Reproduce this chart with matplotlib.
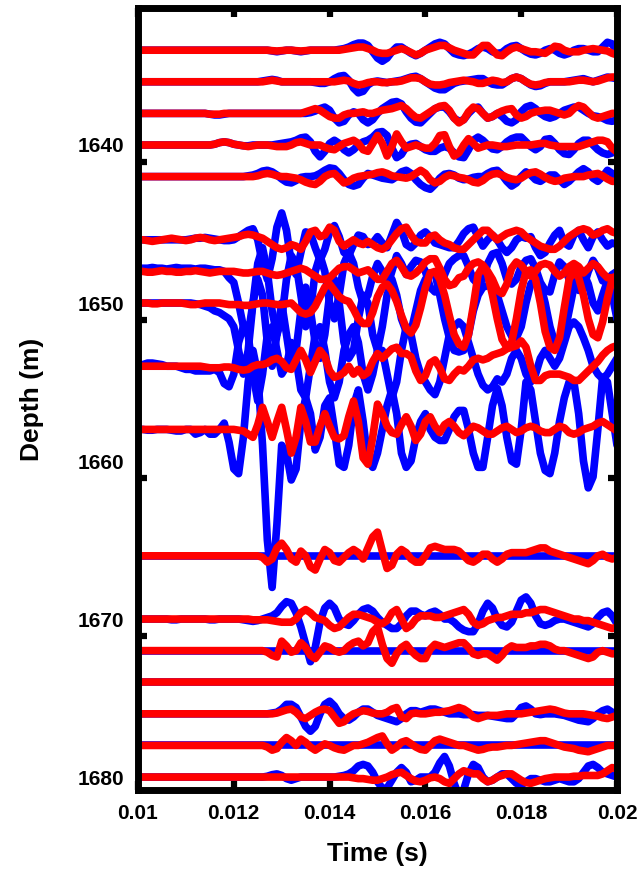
import numpy as np
import matplotlib
matplotlib.use("Agg")
import matplotlib.pyplot as plt

# ---------------- data ----------------
time = np.linspace(0.010, 0.020, 101)          # s, 0.1 ms sampling
depths = [1634, 1636, 1638, 1640, 1642, 1646, 1648, 1650, 1654, 1658,
          1666, 1670, 1672, 1674, 1676, 1678, 1680]
x_ticks = [0.01, 0.012, 0.014, 0.016, 0.018, 0.02]
x_tick_labels = ["0.01", "0.012", "0.014", "0.016", "0.018", "0.02"]
y_ticks = [1640, 1650, 1660, 1670, 1680]
y_tick_labels = ["1640", "1650", "1660", "1670", "1680"]
y_tick_marks = [1641.1, 1651.1, 1661.1, 1671.05]   # tick marks sit slightly below labels

# trace deflections in metres (positive = deeper), blue = measured, red = modelled
blue_1634 = [0, 0, 0, 0, 0, 0, 0, 0, 0, 0,
             0, 0, 0, 0, 0, 0, 0, 0, 0, 0,
             0, 0, 0, 0, 0, 0, 0, 0, 0.05, 0.1,
             0.05, 0, 0, 0.05, 0.1, 0.05, 0, 0, 0, 0,
             0, 0, -0.05, -0.1, -0.2, -0.35, -0.45, -0.45, -0.3, 0.1,
             0.5, 0.7, 0.5, 0.1, -0.2, -0.2, 0, 0.2, 0.35, 0.2,
             0, -0.2, -0.4, -0.5, -0.4, -0.1, 0.2, 0.3, 0.35, 0.25,
             0.1, -0.1, -0.2, -0.1, 0.1, 0.2, 0.15, -0.1, -0.25, -0.3,
             -0.1, 0.1, 0.25, 0.3, 0.2, 0, -0.1, 0, 0.2, 0.3,
             0.2, 0, -0.1, -0.1, 0, 0.1, 0.1, -0.2, -0.5, -0.4,
             0.1]
red_1634 = [0, 0, 0, 0, 0, 0, 0, 0, 0, 0,
            0, 0, 0, 0, 0, 0, 0, 0, 0, 0,
            0, 0, 0, 0, 0, 0, 0, 0, 0.03, 0.05,
            0.03, 0, 0, 0.03, 0.05, 0.03, 0, 0, 0, 0,
            0, 0, 0, -0.05, -0.1, -0.15, -0.2, -0.2, -0.1, 0,
            0.15, 0.2, 0.2, 0.1, 0, -0.1, 0, 0.15, 0.3, 0.2,
            0, -0.1, -0.2, -0.3, -0.3, -0.15, 0, 0.1, 0.2, 0.3,
            0.3, 0, -0.3, -0.3, 0, 0.3, 0.35, 0.1, -0.1, -0.2,
            -0.1, 0, 0.1, 0.1, 0.15, 0.2, 0, -0.25, -0.2, 0,
            0.1, 0.1, 0.1, 0, -0.05, -0.1, -0.05, 0, 0.05, 0.2,
            0.3]
blue_1636 = [0, 0, 0, 0, 0, 0, 0, 0, 0, 0,
             0, 0, 0, 0, 0, 0, 0, 0, 0, 0,
             0, 0, 0, 0, 0, 0, -0.05, -0.1, -0.15, -0.1,
             0, 0, 0, 0, 0, 0, 0, 0.05, 0.1, 0.1,
             0, -0.2, -0.35, -0.4, -0.1, 0.4, 0.7, 0.6, 0.2, 0,
             -0.05, 0, 0.05, 0, -0.05, -0.1, -0.2, -0.3, -0.35, -0.2,
             0, 0.2, 0.4, 0.5, 0.5, 0.3, 0.1, 0, -0.05, -0.1,
             -0.15, -0.2, -0.2, 0, 0.15, 0.2, 0.2, 0, -0.2, -0.3,
             -0.2, 0, 0.2, 0.3, 0.25, 0.1, 0, 0, 0, 0,
             -0.05, -0.1, -0.15, -0.2, -0.1, 0, -0.1, -0.2, -0.3, -0.25,
             -0.2]
red_1636 = [0, 0, 0, 0, 0, 0, 0, 0, 0, 0,
            0, 0, 0, 0, 0, 0, 0, 0, 0, 0,
            0, 0, 0, 0, 0, 0, 0, -0.05, -0.1, -0.05,
            0, 0, 0, 0, 0, 0, 0, 0, 0, 0,
            0, 0, -0.05, -0.1, -0.05, 0.1, 0.2, 0.15, 0.05, 0,
            0, 0.05, 0.05, 0, 0, -0.05, -0.15, -0.25, -0.25, -0.2,
            0, 0.15, 0.2, 0.2, 0.15, 0.05, 0, -0.05, -0.1, -0.05,
            0, 0.1, 0.1, 0, -0.1, -0.05, 0.05, 0, -0.2, -0.3,
            -0.2, 0, 0.15, 0.2, 0.15, 0.05, 0, 0, 0, 0,
            0, -0.05, -0.1, -0.1, -0.05, 0, -0.05, -0.15, -0.25, -0.3,
            -0.3]
blue_1638 = [0, 0, 0, 0, 0, 0, 0, 0, 0, 0,
             0, 0, 0, 0, 0, 0.05, 0.1, 0.1, 0.05, 0,
             0, 0, 0, 0, 0, 0, 0, 0, 0, 0,
             0, 0, 0, 0, 0, 0, -0.05, -0.15, -0.3, -0.4,
             -0.2, 0.3, 0.6, 0.5, 0.1, -0.1, 0, 0.4, 0.6, 0.4,
             0, -0.3, -0.5, -0.7, -0.75, -0.6, -0.1, 0.3, 0.55, 0.6,
             0.3, 0, -0.3, -0.4, -0.4, -0.1, 0.3, 0.5, 0.4, 0,
             -0.3, -0.4, 0, 0.3, 0.2, 0, 0.2, 0.5, 0.6, 0.4,
             -0.1, -0.4, -0.5, -0.3, 0, 0.2, 0.3, 0.2, 0, -0.2,
             -0.3, -0.4, -0.4, -0.2, 0, 0.15, 0.2, 0.3, 0.45, 0.5,
             0.4]
red_1638 = [0, 0, 0, 0, 0, 0, 0, 0, 0, 0,
            0, 0, 0, 0, 0, 0.05, 0.05, 0.05, 0, 0,
            0, 0, 0, 0, 0, 0, 0, 0, 0, 0,
            0, 0, 0, 0, 0, -0.1, -0.2, -0.3, -0.2, 0,
            0.2, 0.3, 0.3, 0.1, 0, 0, -0.05, -0.1, 0, 0,
            -0.1, -0.2, -0.25, -0.3, -0.4, -0.5, -0.3, 0, 0.25, 0.3,
            0.1, -0.1, -0.3, -0.45, -0.5, -0.2, 0.3, 0.6, 0.4, -0.1,
            -0.4, -0.3, 0, 0.3, 0.2, 0, -0.15, -0.25, -0.3, 0.1,
            0.3, 0.2, 0, -0.1, -0.15, -0.2, -0.2, -0.1, 0, 0.1,
            0, -0.3, -0.5, -0.4, -0.1, 0.2, 0.3, 0.2, 0.1, 0,
            0]
blue_1640 = [0, 0, 0, 0, 0, 0, 0, 0, 0, 0,
             0, 0, 0, 0, 0, 0, -0.05, -0.15, -0.2, -0.15,
             -0.05, 0, 0.05, 0.05, 0, 0, 0, 0, 0, -0.05,
             -0.1, -0.15, -0.2, -0.3, -0.45, -0.5, -0.2, 0.4, 0.75, 0.4,
             -0.1, -0.3, -0.1, 0.3, 0.5, 0.3, 0, -0.2, -0.3, -0.5,
             -0.8, -0.85, -0.6, 0.2, 0.8, 0.6, 0.1, -0.05, -0.1, 0.1,
             0.3, 0.4, 0.4, 0.2, 0.1, 0.2, 0.5, 0.75, 0.8, 0.3,
             -0.3, -0.5, -0.3, 0, 0.25, 0.3, 0.1, -0.2, -0.4, -0.5,
             -0.5, -0.2, 0.1, 0.3, 0.1, -0.35, -0.4, -0.1, 0.3, 0.55,
             0.6, 0.3, -0.1, -0.3, -0.3, 0, 0.3, 0.5, 0.6, 0.5,
             0.3]
red_1640 = [0, 0, 0, 0, 0, 0, 0, 0, 0, 0,
            0, 0, 0, 0, 0, 0, -0.05, -0.15, -0.2, -0.15,
            -0.05, 0, 0.05, 0.1, 0.05, 0, 0, 0, 0.05, 0.1,
            0.1, 0.1, 0, -0.15, -0.2, -0.1, 0, 0, 0, 0.15,
            0.25, 0.3, 0.1, -0.1, -0.2, -0.3, -0.1, 0.3, 0.4, -0.1,
            -0.6, -0.1, 0.7, 0.1, -0.7, -0.2, 0.2, 0.1, 0, 0.1,
            0.2, 0.2, -0.1, -0.6, -0.65, 0.1, 0.7, 0.5, 0, -0.4,
            -0.1, 0.2, 0.1, 0, 0, 0.05, 0.1, 0.1, 0.05, 0,
            0, 0, 0, -0.05, -0.1, -0.1, 0, 0.05, 0.1, 0.1,
            0.1, 0.1, 0.1, 0, -0.1, -0.2, -0.3, -0.3, -0.2, 0.2,
            0.45]
blue_1642 = [0, 0, 0, 0, 0, 0, 0, 0, 0, 0,
             0, 0, 0, 0, 0, 0, 0, 0, 0, 0,
             0, 0, 0, -0.05, -0.1, -0.2, -0.35, -0.4, -0.3, -0.1,
             0.15, 0.35, 0.4, 0.25, 0.05, 0, 0, -0.05, -0.2, -0.4,
             -0.55, -0.5, -0.2, 0.2, 0.5, 0.6, 0.5, 0.1, -0.2, -0.1,
             0, 0.1, 0.15, 0.2, 0, -0.3, -0.4, -0.2, 0.2, 0.5,
             0.7, 0.8, 0.5, 0.1, -0.15, -0.2, -0.1, 0.1, 0.2, 0.15,
             0.05, 0, 0, -0.2, -0.35, -0.4, -0.1, 0.3, 0.6, 0.4,
             0, -0.3, -0.1, 0.2, 0.3, 0.1, -0.1, -0.1, 0.2, 0.5,
             0.3, 0, -0.3, -0.5, -0.3, 0.1, 0.3, 0, -0.4, -0.2,
             0.2]
red_1642 = [0, 0, 0, 0, 0, 0, 0, 0, 0, 0,
            0, 0, 0, 0, 0, 0, 0, 0, 0, 0,
            0, 0, 0, 0, 0, -0.05, -0.15, -0.2, -0.15, -0.05,
            0, 0, 0.05, 0.1, 0.2, 0.35, 0.45, 0.5, 0.3, 0,
            -0.15, -0.2, 0.1, 0.4, 0.3, 0.1, 0, -0.05, -0.1, -0.15,
            -0.25, -0.3, -0.2, -0.05, 0, 0.05, 0.1, 0, -0.2, -0.4,
            -0.2, 0.2, 0.4, 0.3, 0.05, -0.1, -0.05, 0.05, 0.1, 0.2,
            0.35, 0.4, 0.25, 0, -0.15, -0.2, -0.1, 0.05, 0.15, 0.2,
            0.1, -0.1, -0.25, -0.3, -0.15, 0.05, 0.2, 0.3, 0.25, 0.1,
            0.05, 0, 0, 0, -0.1, -0.15, -0.2, -0.05, 0.15, 0.3,
            0.3]
blue_1646 = [0, 0, 0, 0, 0, 0, 0, 0, 0, 0,
             0, -0.05, -0.1, -0.1, -0.15, -0.1, -0.05, 0, 0.05, 0.05,
             0, -0.2, -0.4, -0.6, -0.7, 0, 1.5, 2.5, 1.2, -0.8,
             -1.7, -0.6, 1.5, 2.2, 0.8, -0.5, -0.4, 0.5, 1.3, 0.6,
             -0.5, -0.9, -0.2, 0.8, 1.0, 0.3, -0.3, -0.2, 0.3, 0.2,
             -0.2, 0.2, 0.5, -0.3, -1.1, -0.6, 0.3, 0.5, 0.2, -0.3,
             -0.5, -0.2, 0.2, 0.3, 0.4, 0.5, 0.5, 0.1, -0.4, -0.7,
             -0.8, -0.2, 0.4, 0, -0.3, 0, 0.5, 0.8, 0.5, 0,
             -0.2, -0.1, -0.2, 0.5, 1.0, 0.8, 0.2, -0.3, -0.6, 0.2,
             0.4, -0.3, -0.6, 0, 0.5, -0.2, -0.5, 0, 0.4, 0.2,
             0.3]
red_1646 = [0, 0, 0.05, 0.1, 0.05, 0, -0.05, -0.1, -0.05, 0,
            0.05, 0, -0.1, -0.15, -0.1, 0, 0.05, 0, -0.05, -0.1,
            -0.15, -0.2, -0.3, -0.35, -0.3, -0.2, -0.1, 0.1, 0.3, 0.5,
            0.6, 0.5, 0.3, 0.4, 0.6, 0.1, -0.5, -0.6, -0.2, -0.3,
            -0.8, -0.6, 0.1, 0.4, 0.2, 0, 0.2, 0.3, 0.1, 0.3,
            0.5, 0.6, 0.4, 0, -0.4, -0.7, -0.8, -0.3, 0.1, 0.2,
            0.2, -0.2, -0.3, 0, 0.2, 0.3, 0.5, 0.6, 0.6, 0.3,
            0, -0.3, -0.6, -0.6, -0.3, 0, -0.2, -0.4, -0.5, -0.6,
            -0.5, -0.2, 0, 0.2, 0.4, 0.5, 0.6, 0.6, 0.4, 0.1,
            -0.2, -0.4, -0.6, -0.7, -0.6, -0.3, -0.4, -0.6, -0.7, -0.5,
            -0.4]
blue_1648 = [-0.2, -0.2, -0.2, -0.25, -0.2, -0.2, -0.15, -0.2, -0.25, -0.2,
             -0.2, -0.2, -0.15, -0.2, -0.2, -0.15, -0.1, -0.1, 0, 0.4,
             0.7, 2.0, 3.5, 4.0, 2.0, -0.5, -1.5, 0, 2.5, 4.0,
             3.0, 0.5, -1.0, -0.5, 1.5, 3.5, 2.5, 0, -1.0, 0,
             2.0, 3.0, 1.5, -0.5, -1.2, -0.5, 1.0, 2.0, 1.5, 0.3,
             -0.5, 0, 1.0, 0, -1.0, -0.5, 0.2, -0.3, -0.7, -0.6,
             0, 1.0, 1.3, 1.0, 0.2, -0.5, -0.8, -1.0, -1.0, -0.3,
             0.5, 0.8, 0.5, -0.5, -1.1, -1.2, -0.5, 0.5, 0.8, 0.5,
             -0.3, -0.7, -0.8, -0.2, 0.7, 1.2, 1.3, 0.2, -0.6, -0.3,
             0.5, 1.0, 1.2, 1.0, 0, -0.7, -0.2, 0.6, 0.5, 0.2,
             0]
red_1648 = [0, 0, 0.05, 0.05, 0, -0.05, 0, 0, 0.05, 0.05,
            0, 0, -0.05, 0, 0.05, 0.1, 0.05, 0, 0, 0,
            0, 0.05, 0.1, 0.1, 0.05, 0, 0, 0.1, 0.2, 0.25,
            0.2, 0.1, 0, -0.1, -0.2, -0.1, 0.1, 0.3, 0.5, 0.5,
            0.4, 0.1, -0.2, -0.3, -0.3, -0.1, 0.1, 0, -0.1, 0.2,
            0.5, 0.5, 0, -0.5, -0.7, -0.3, 0.2, 0.3, 0.1, -0.2,
            -0.6, -0.8, -0.8, -0.2, 0.5, 0.9, 0.8, 0.4, 0.3, -0.2,
            -0.5, -0.6, -0.4, 0, 0.5, 1.2, 1.4, 0.8, -0.2, -0.6,
            -0.4, 0, 0.3, 0, -0.4, -0.5, -0.4, 0, 0.3, 0.1,
            -0.3, -0.5, -0.3, 0.1, -0.2, -0.5, -0.3, 0.1, 0.4, 0.4,
            0.3]
blue_1650 = [0, 0, 0, 0, 0, 0, 0, 0, 0, 0,
             0, 0, 0.05, 0.1, 0.2, 0.3, 0.5, 0.6, 0.8, 1.0,
             1.5, 3.0, 4.5, 3.0, 0, -1.5, -0.5, 2.5, 4.0, 2.0,
             0, 2.0, 4.0, 3.0, 0.5, -1.0, 0.5, 2.5, 3.5, 2.0,
             -0.5, -1.5, 0, 2.5, 3.5, 3.0, 1.0, -0.5, 0, 2.0,
             3.0, 1.5, -0.5, -1.5, -0.5, 1.0, 1.8, 1.8, 0.5, -0.8,
             -1.5, -1.9, -1.9, -0.5, 1.0, 2.2, 3.0, 3.1, 3.0, 2.0,
             0.5, -0.5, -1.0, -1.1, -1.1, -0.5, 0.5, 1.5, 2.1, 2.2,
             1.5, 0, -1.2, -1.6, -1.2, 0, 1.5, 2.5, 2.7, 2.0,
             0.5, -1.0, -1.8, -1.9, -1.2, 0, 0.5, -0.5, -1.4, -0.5,
             1.0]
red_1650 = [0, 0, 0, 0.05, 0.05, 0, 0, 0, 0, 0,
            0.05, 0.1, 0.1, 0.05, 0, 0, 0, 0, 0.05, 0.1,
            0.1, 0.1, 0.15, 0.15, 0.1, 0.05, 0, 0, 0.05, 0.1,
            0.1, 0.05, 0, 0.3, 0.6, 0.7, 0.6, 0.2, -0.4, -1.0,
            -1.2, -0.8, -0.4, -0.2, -0.1, 0.4, 1.0, 1.3, 1.3, 0.6,
            -0.4, -1.0, -1.2, -0.8, -0.1, 0.8, 1.6, 1.9, 1.4, 0.3,
            -1.0, -1.9, -2.0, -1.5, -0.5, 0.8, 2.0, 2.6, 2.8, 2.0,
            0.2, -1.8, -2.3, -1.8, -0.5, 1.0, 2.3, 2.8, 2.5, 1.0,
            -0.8, -2.0, -2.1, -1.5, 0, 1.8, 2.8, 3.0, 2.2, 0.3,
            -1.5, -2.0, -1.6, -0.5, 1.0, 2.0, 2.2, 1.2, -0.3, -1.5,
            -1.6]
blue_1654 = [0, -0.1, -0.2, -0.2, -0.15, -0.1, 0, 0, 0, 0.1,
             0.2, 0.2, 0.3, 0.3, 0.3, 0.3, 0.2, 0.4, 1.1, 1.3,
             0.5, -1.5, -2.5, -2.0, 0.5, 2.2, 0.5, -2.0, -2.5, -1.0,
             0.5, 0, -1.5, -0.5, 1.5, 2.0, 0, -2.0, -2.5, -1.0,
             1.0, 2.0, 1.0, -1.0, -2.0, -2.5, -1.5, 0.5, 1.5, 0.5,
             -1.0, -1.0, 0.5, 2.0, 1.0, -1.0, -2.5, -2.0, -0.5, 0.5,
             1.0, 1.5, 1.8, 1.0, -0.5, -2.0, -2.5, -2.8, -2.5, -1.5,
             -0.5, 0.5, 1.2, 1.5, 1.3, 0.8, 1.0, 0.5, -0.5, -1.0,
             -0.5, 0.5, 1.0, 0.5, -0.5, -1.0, -0.5, 0, -0.5, -1.5,
             -2.5, -2.8, -2.5, -1.8, -1.0, 0, 0.5, 0.8, 0.5, 0,
             -0.5]
red_1654 = [0, 0, 0, 0, 0, 0, 0, 0, 0, 0,
            0, 0, 0, 0, 0.05, 0.1, 0.1, 0.1, 0.05, 0.05,
            0.1, 0.2, 0.25, 0.2, 0, -0.1, -0.1, -0.2, -0.4, -0.5,
            -0.3, 0.1, 0.2, -0.4, -1.0, -0.4, 0.4, -0.3, -1.0, -0.6,
            0.3, 0.7, 0.6, 0.4, 0, 0.5, 0.2, 0.6, 0.4, -0.3,
            -0.8, -0.5, -0.8, -1.1, -1.2, -0.8, -0.8, -0.6, 0.3, 0.9,
            0.6, -0.2, -0.4, 0.1, 0.8, 0.9, 0.5, 0.2, 0.3, 0,
            -0.4, -0.5, -0.4, -0.5, -0.7, -0.8, -0.9, -1.1, -1.2, -1.3,
            -1.6, -1.2, 0, 0.9, 0.9, 0.6, 0.5, 0.5, 0.5, 0.6,
            0.7, 0.9, 0.9, 0.6, 0.3, 0, -0.3, -0.7, -1.0, -1.2,
            -1.3]
blue_1658 = [0, 0, 0.05, 0.05, 0, 0, 0, 0.05, 0.1, 0.1,
             0, 0, 0.3, 0.2, 0, 0.3, 0.3, 0, -0.4, 0.8,
             2.5, 2.8, 0.5, -3.0, -5.0, -3.5, 1.0, 7.0, 10.0, 6.0,
             1.0, 1.5, 3.2, 2.5, -0.5, -2.0, -1.0, 1.3, 0.5, -1.5,
             -2.0, 0, 2.2, 2.4, 1.0, -1.5, -2.5, -0.5, 2.0, 2.4,
             1.5, 0, -1.5, -2.5, -1.0, 1.5, 2.4, 2.0, 0.5, -0.5,
             -1.0, 0, 0.5, 0.7, 0.7, 0, -0.8, -1.2, -1.2, 0,
             1.5, 2.4, 2.4, 0.5, -1.5, -2.6, -1.5, 0.5, 2.0, 2.2,
             0, -3.0, -2.5, -0.5, 1.5, 2.6, 2.8, 1.5, -0.5, -2.0,
             -3.0, -3.0, -1.0, 2.0, 3.7, 3.0, 0, -3.3, -3.0, -1.0,
             1.0]
red_1658 = [0, 0, 0, 0, 0, 0, 0, 0, 0, 0,
            0, 0, 0, 0, 0, 0, 0, 0, 0, 0,
            0, 0.05, 0.1, 0.3, 0.5, -0.3, -1.4, -0.5, 0.5, -0.5,
            -1.4, 0, 1.5, 0.5, -1.4, -0.5, 0.8, 0.8, -0.2, -1.0,
            -0.2, 0.5, 0.6, 0.4, -0.8, -1.8, -0.5, 1.8, 2.2, 0.5,
            -1.6, -1.0, -0.2, 0.2, 0.3, -0.3, -0.8, -0.2, 0.7, 0.3,
            -0.5, -0.8, -0.2, 0.2, -0.3, -0.5, -0.2, 0.2, 0.4, 0.1,
            -0.2, -0.1, 0.1, 0.3, 0.3, 0.1, -0.1, -0.2, 0, 0.2,
            0.1, -0.1, -0.2, -0.1, 0.1, 0.2, 0.2, 0, -0.2, -0.1,
            0.2, 0.3, 0.2, 0, -0.1, -0.2, -0.4, -0.5, -0.3, -0.1,
            0.1]
blue_1666 = [0] * 101
red_1666 = [0, 0, 0, 0, 0, 0, 0, 0, 0, 0,
            0, 0, 0, 0, 0, 0, 0, 0, 0, 0,
            0, 0, 0, 0, 0, 0, 0.1, 0.4, 0.2, -0.5,
            -0.8, -0.4, 0.2, 0.4, -0.3, 0, 0.7, 0.9, 0.2, -0.4,
            -0.2, 0.3, 0.4, 0.1, -0.2, -0.4, -0.2, 0.2, -0.5, -1.2,
            -1.5, -0.3, 0.8, 0.6, -0.1, -0.4, -0.2, 0.2, 0.4, 0.4,
            0, -0.5, -0.6, -0.5, -0.4, -0.4, -0.4, -0.3, 0, 0.3,
            0.4, 0.2, -0.1, -0.1, 0.2, 0.4, 0.2, -0.1, -0.2, -0.2,
            -0.2, -0.2, -0.3, -0.4, -0.5, -0.5, -0.3, -0.2, -0.1, 0,
            0.1, 0.2, 0.3, 0.4, 0.5, 0.3, 0, -0.1, 0.1, 0.2,
            0.1]
blue_1670 = [0, 0, 0, 0, 0, 0, 0, 0.05, 0.05, 0,
             0, 0, 0, 0, 0, 0.05, 0.05, 0, 0, 0,
             0, 0, 0.05, 0.1, 0.15, 0.1, 0, -0.1, -0.2, -0.4,
             -0.8, -1.1, -1.0, -0.4, 0.5, 1.6, 2.7, 1.8, 0.2, -0.7,
             -1.0, -0.7, 0, 0.3, 0.4, 0.1, -0.3, -0.6, -0.7, -0.5,
             -0.1, 0.2, 0.4, 0.6, 0.6, 0.3, -0.2, -0.5, -0.5, -0.3,
             -0.2, -0.4, -0.5, -0.3, 0, 0, 0.2, 0.5, 0.7, 0.8,
             0.8, 0.3, -0.5, -1.0, -0.7, 0, 0.4, 0.5, 0.2, -0.5,
             -1.2, -1.4, -1.0, -0.2, 0.3, 0.4, 0.3, 0.1, 0, 0,
             0.1, 0.2, 0.3, 0.4, 0.5, 0.3, -0.1, -0.4, -0.5, -0.2,
             0.3]
red_1670 = [0, 0, 0, 0, 0, 0, 0, 0, 0, 0,
            0, 0, 0, 0, 0, 0, 0, 0, 0, 0,
            0, 0, 0, 0, 0.05, 0.05, 0.05, 0.05, 0.1, 0.15,
            0.2, 0.2, 0.2, 0, -0.4, -0.6, -0.4, -0.1, 0, 0.1,
            0.4, 0.6, 0.5, 0.2, -0.1, -0.3, -0.3, -0.2, -0.1, 0,
            0.2, 0.3, 0.1, -0.4, -0.6, 0, 0.6, 0.4, 0, -0.2,
            -0.2, -0.2, -0.1, -0.1, -0.2, -0.3, -0.4, -0.5, -0.6, -0.3,
            0.2, 0.4, 0.3, 0.1, 0, -0.1, -0.1, -0.2, -0.3, -0.3,
            -0.3, -0.4, -0.4, -0.5, -0.6, -0.6, -0.5, -0.4, -0.3, -0.2,
            -0.1, 0, 0, 0.1, 0.1, 0.2, 0.3, 0.4, 0.5, 0.6,
            0.5]
blue_1672 = [0] * 101
red_1672 = [0, 0, 0, 0, 0, 0, 0, 0, 0, 0,
            0, 0, 0, 0, 0, 0, 0, 0, 0, 0,
            0, 0, 0, 0, 0, 0, 0, 0.1, 0.3, 0.4,
            -0.6, -0.3, 0.1, 0, -0.5, -0.2, 0.3, 0.5, 0.1, -0.3,
            -0.2, 0, 0.1, 0, -0.3, -0.5, -0.6, -0.3, -0.5, -1.2,
            -1.5, -0.4, 0.5, 0.8, 0.2, -0.2, -0.4, 0, 0.3, 0.5,
            0.5, -0.1, -0.4, -0.3, -0.2, -0.3, -0.4, -0.5, -0.5, -0.2,
            0.2, 0.3, 0.2, 0.2, 0.4, 0.6, 0.3, -0.1, -0.3, -0.2,
            -0.2, -0.2, -0.3, -0.3, -0.4, -0.4, -0.3, -0.1, 0, 0,
            0.1, 0.2, 0.3, 0.4, 0.5, 0.4, 0.1, 0, 0.1, 0.2,
            0.2]
blue_1674 = [0] * 101
red_1674 = [0] * 101
blue_1676 = [0, 0, 0, 0, 0, 0, 0, 0, 0, 0,
             0, 0, 0, 0, 0, 0, 0, 0, 0, 0,
             0, 0, 0, 0, 0, 0, 0, 0, -0.05, -0.1,
             -0.3, -0.6, -0.6, -0.4, 0.2, 0.8, 1.1, 0.8, 0, -0.6,
             -0.8, -0.5, 0, 0.3, 0.4, 0.2, -0.1, -0.3, -0.3, -0.1,
             0.1, 0.2, 0.3, 0.4, 0.5, 0.3, 0, -0.2, -0.2, -0.1,
             -0.2, -0.3, -0.3, -0.2, -0.1, 0, 0, 0, 0.05, 0.05,
             0.05, 0.1, 0.1, 0.1, 0.15, 0.2, 0.25, 0.3, 0.3, 0,
             -0.4, -0.5, -0.3, 0, 0.05, 0, 0, 0, 0.05, 0.1,
             0.2, 0.3, 0.4, 0.45, 0.5, 0.3, 0, -0.2, -0.3, -0.1,
             0]
red_1676 = [0, 0, 0, 0, 0, 0, 0, 0, 0, 0,
            0, 0, 0, 0, 0, 0, 0, 0, 0, 0,
            0, 0, 0, 0, 0, 0, 0, 0, 0, -0.05,
            -0.15, -0.25, -0.3, -0.1, 0.2, 0.3, 0.1, -0.1, -0.25, -0.3,
            -0.2, 0.2, 0.6, 0.5, 0.2, 0, -0.1, -0.2, -0.15, -0.05,
            0, 0, -0.1, -0.3, -0.4, 0.2, 0.3, 0, -0.05, 0,
            0, -0.05, -0.1, -0.1, -0.15, -0.2, -0.3, -0.4, -0.3, -0.1,
            0.2, 0.3, 0.2, 0.1, 0.1, 0.1, 0.05, 0, 0, 0,
            0, -0.05, -0.1, -0.15, -0.2, -0.25, -0.3, -0.25, -0.15, -0.05,
            0, 0, 0, 0, 0.05, 0.1, 0.15, 0.25, 0.3, 0.2,
            0.1]
blue_1678 = [0] * 101
red_1678 = [0, 0, 0, 0, 0, 0, 0, 0, 0, 0,
            0, 0, 0, 0, 0, 0, 0, 0, 0, 0,
            0, 0, 0, 0, 0, 0, 0, 0.1, 0.3, 0.2,
            -0.2, -0.5, -0.3, 0, -0.4, -0.2, 0.1, 0.3, 0.1, -0.1,
            0, 0.15, 0.25, 0.3, 0.15, 0, 0, -0.1, -0.2, -0.35,
            -0.5, -0.6, -0.1, 0.3, 0.1, -0.2, -0.3, -0.1, 0.1, 0.25,
            0.3, 0, -0.3, -0.4, -0.3, -0.2, -0.1, 0, 0, 0.1,
            0.2, 0.3, 0.25, 0.15, 0.1, 0.1, 0.05, 0, 0, -0.05,
            -0.1, -0.15, -0.2, -0.25, -0.3, -0.3, -0.2, -0.1, 0, 0.1,
            0.15, 0.2, 0.3, 0.35, 0.4, 0.3, 0.2, 0.1, 0, 0,
            0]
blue_1680 = [0, 0, 0, 0, 0, 0, 0, 0, 0, 0,
             0, 0, 0, 0, 0, 0, 0, 0, 0, 0,
             0, 0, 0, 0, 0, 0, 0, -0.05, -0.15, -0.2,
             -0.1, 0.1, 0.2, 0.1, 0, 0, 0, 0, 0, 0,
             0, 0, -0.05, -0.1, -0.2, -0.4, -0.7, -0.8, -0.7, -0.3,
             0.3, 0.7, 0.7, 0.2, -0.3, -0.6, -0.3, 0.3, 0.2, 0,
             0, 0, -0.3, -0.9, -1.3, -0.7, 0.4, 1.2, 0.8, -0.2,
             -0.8, -0.6, 0, 0.3, 0.2, 0, -0.2, -0.2, 0.1, 0.4,
             0.5, 0.3, 0.1, 0.1, 0.2, 0.3, 0.3, 0.2, 0.1, 0.2,
             0.3, 0.3, 0.1, -0.3, -0.7, -0.8, -0.6, -0.3, -0.2, -0.1,
             0]
red_1680 = [0, 0, 0, 0, 0, 0, 0, 0, 0, 0,
            0, 0, 0, 0, 0, 0, 0, 0, 0, 0,
            0, 0, 0, 0, 0, 0, 0, 0, 0, 0,
            0, 0, 0, 0, 0, 0, 0, 0, 0, 0,
            0, 0, 0, 0, 0, 0.05, 0.1, 0.1, 0.15, 0.2,
            0.2, 0.1, 0, -0.15, -0.25, -0.3, -0.1, 0.1, 0.25, 0.3,
            0.2, 0.05, 0, 0.1, 0.3, 0.4, 0.1, -0.2, -0.4, -0.3,
            -0.2, -0.2, 0.1, 0.3, 0.2, 0, -0.1, -0.2, -0.2, 0,
            0.2, 0.35, 0.4, 0.3, 0.2, 0.1, 0.05, 0, 0, 0,
            0, -0.05, -0.05, -0.1, -0.1, -0.1, -0.1, -0.2, -0.4, -0.6,
            -0.5]

blue_traces = [blue_1634, blue_1636, blue_1638, blue_1640, blue_1642,
               blue_1646, blue_1648, blue_1650, blue_1654, blue_1658,
               blue_1666, blue_1670, blue_1672, blue_1674, blue_1676,
               blue_1678, blue_1680]
red_traces = [red_1634, red_1636, red_1638, red_1640, red_1642,
              red_1646, red_1648, red_1650, red_1654, red_1658,
              red_1666, red_1670, red_1672, red_1674, red_1676,
              red_1678, red_1680]

# ---------------- figure ----------------
plt.rcParams['font.family'] = ['Liberation Sans', 'DejaVu Sans']
fig = plt.figure(figsize=(6.44, 8.86), dpi=100)
ax = fig.add_axes([138 / 644, 1 - 790 / 886, (617 - 138) / 644, (790 - 8) / 886])

def trace_xy(vals):
    v = np.asarray(vals, dtype=float)
    t = np.linspace(time[0], time[-1], len(v))
    return t, v

for d, vals in zip(depths, blue_traces):
    t, v = trace_xy(vals)
    ax.plot(t, d + v, color=(0, 0, 1), lw=5.5, solid_capstyle='round',
            solid_joinstyle='round', zorder=2)
for d, vals in zip(depths, red_traces):
    t, v = trace_xy(vals)
    ax.plot(t, d + v, color=(1, 0, 0), lw=5.5, solid_capstyle='round',
            solid_joinstyle='round', zorder=3)

ax.set_xlim(0.01, 0.02)
ax.set_ylim(1680.82, 1631.33)
ax.set_xticks(x_ticks)
ax.set_xticklabels(x_tick_labels)
ax.set_yticks(y_ticks)
ax.set_yticklabels(y_tick_labels)
ax.set_yticks(y_tick_marks, minor=True)

for s in ax.spines.values():
    s.set_linewidth(5)
    s.set_zorder(5)
ax.tick_params(axis='x', which='major', direction='in', length=6.5, width=4.5,
               top=True, bottom=True, labelsize=15, pad=10)
ax.tick_params(axis='y', which='major', direction='in', length=0, width=0,
               left=True, right=True, labelsize=15, pad=10)
ax.tick_params(axis='y', which='minor', direction='in', length=6.5, width=4.5,
               left=True, right=True, labelleft=False)
for lab in ax.get_xticklabels() + ax.get_yticklabels():
    lab.set_fontweight('bold')

ax.set_xlabel('Time (s)', fontsize=19, fontweight='bold', labelpad=14)
ax.set_ylabel('Depth (m)', fontsize=19, fontweight='bold', labelpad=24)

fig.savefig('out.png', dpi=100)
